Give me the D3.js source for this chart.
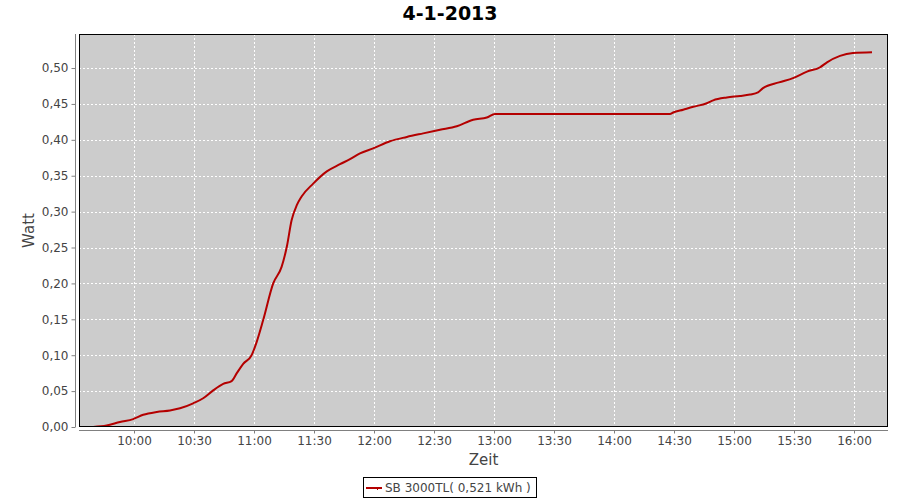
<!DOCTYPE html>
<html>
<head>
<meta charset="utf-8">
<script src="https://cdn.jsdelivr.net/npm/d3@7"></script>
<style>
  body { margin: 0; background: #fff; }
  svg { display: block; }
  text { font-family: "DejaVu Sans", sans-serif; }
</style>
</head>
<body>
<svg id="chart" width="900" height="500"></svg>
<script>
const title = "4-1-2013";
const xLabel = "Zeit";
const yLabel = "Watt";
const seriesName = "SB 3000TL( 0,521 kWh )";

const times = ["09:39:36","09:46:18","09:53:00","09:59:36","10:04:36","10:11:24","10:18:00","10:23:00","10:29:36","10:34:36",
  "10:39:36","10:44:36","10:48:48","10:51:24","10:54:36","10:58:48","11:01:24","11:04:36","11:09:36","11:13:48",
  "11:16:24","11:18:48","11:21:24","11:23:48","11:29:36","11:36:24","11:43:00","11:48:00","11:53:00","11:59:36",
  "12:08:00","12:16:24","12:24:36","12:33:00","12:41:24","12:49:36","12:56:24","13:00:30","14:28:00","14:29:36",
  "14:34:36","14:39:36","14:46:24","14:49:36","14:56:24","15:03:00","15:08:00","15:12:00","15:14:30","15:22:30",
  "15:29:30","15:36:30","15:43:00","15:46:30","15:53:00","15:59:30","16:09:00"];
const values = [0.000,0.002,0.007,0.011,0.017,0.021,0.023,0.026,0.033,0.040,
  0.051,0.060,0.064,0.075,0.088,0.100,0.119,0.149,0.200,0.223,
  0.251,0.288,0.309,0.321,0.339,0.356,0.366,0.373,0.381,0.388,
  0.398,0.404,0.409,0.414,0.419,0.428,0.431,0.436,0.436,0.438,
  0.442,0.446,0.451,0.455,0.459,0.461,0.463,0.466,0.472,0.480,
  0.486,0.495,0.501,0.508,0.517,0.521,0.522];
const xDomain = ["09:32:30", "16:17:00"];
const yDomain = [0, 0.5474];
const yTicks = [0,0.05,0.10,0.15,0.20,0.25,0.30,0.35,0.40,0.45,0.50];

const parse = d3.timeParse("%H:%M:%S");
const data = times.map((t, i) => ({ t: parse(t), v: values[i] }));

const svg = d3.select("#chart");
const plot = { left: 79, top: 34, right: 888, bottom: 427 };
const off = 4;

const x = d3.scaleTime().domain(xDomain.map(parse)).range([plot.left, plot.right]);
const y = d3.scaleLinear().domain(yDomain).range([plot.bottom, plot.top]);

svg.append("rect").attr("x", plot.left).attr("y", plot.top)
  .attr("width", plot.right - plot.left).attr("height", plot.bottom - plot.top)
  .attr("fill", "#cccccc");

const xTicks = x.ticks(d3.timeMinute.every(30));
const g = svg.append("g").attr("stroke", "#ffffff").attr("stroke-width", 1).attr("stroke-dasharray", "2,2");
xTicks.forEach(t => {
  const px = Math.round(x(t)) + 0.5;
  g.append("line").attr("x1", px).attr("x2", px).attr("y1", plot.top).attr("y2", plot.bottom);
});
yTicks.forEach(v => {
  const py = Math.round(y(v)) + 0.5;
  g.append("line").attr("x1", plot.left).attr("x2", plot.right).attr("y1", py).attr("y2", py);
});

svg.append("clipPath").attr("id", "clip").append("rect")
  .attr("x", plot.left).attr("y", plot.top).attr("width", plot.right - plot.left).attr("height", plot.bottom - plot.top);
svg.append("path").datum(data)
  .attr("clip-path", "url(#clip)")
  .attr("fill", "none").attr("stroke", "#b40000").attr("stroke-width", 2)
  .attr("d", d3.line().x(d => x(d.t)).y(d => y(d.v)).curve(d3.curveMonotoneX));

svg.append("rect").attr("x", plot.left + 0.5).attr("y", plot.top + 0.5)
  .attr("width", plot.right - plot.left - 1).attr("height", plot.bottom - plot.top - 1)
  .attr("fill", "none").attr("stroke", "#000").attr("stroke-width", 1);

const fmtY = v => d3.format(".2f")(v).replace(".", ",");
const yAxis = d3.axisLeft(y).tickValues(yTicks).tickFormat(fmtY).tickSize(4).tickPadding(3);
const yg = svg.append("g").attr("transform", `translate(${plot.left - off + 0.5},0)`).call(yAxis);
const xAxis = d3.axisBottom(x).tickValues(xTicks).tickFormat(d3.timeFormat("%H:%M")).tickSize(3).tickPadding(3);
const xg = svg.append("g").attr("transform", `translate(0,${plot.bottom + off - 0.5})`).call(xAxis);
[yg, xg].forEach(a => {
  a.select(".domain").attr("stroke", "#808080");
  a.selectAll(".tick line").attr("stroke", "#808080");
  a.selectAll(".tick text").attr("fill", "#444444").style("font-size", "12px").style("font-family", "DejaVu Sans, sans-serif");
});
yg.select(".domain").attr("d", `M0,${plot.top}V${plot.bottom}`);
xg.select(".domain").attr("d", `M${plot.left},0H${plot.right}`);

svg.append("text").attr("x", 450).attr("y", 20).attr("text-anchor", "middle")
  .style("font-size", "19px").style("font-weight", "bold").attr("fill", "#000").text(title);

svg.append("text").attr("x", (plot.left + plot.right) / 2).attr("y", 465).attr("text-anchor", "middle")
  .style("font-size", "15px").attr("fill", "#444444").text(xLabel);
svg.append("text").attr("transform", `translate(34,${(plot.top + plot.bottom) / 2}) rotate(-90)`)
  .attr("text-anchor", "middle").style("font-size", "15px").attr("fill", "#444444").text(yLabel);

const lg = svg.append("g");
lg.append("rect").attr("x", 363.5).attr("y", 477.5).attr("width", 173).attr("height", 20)
  .attr("fill", "#fff").attr("stroke", "#000").attr("stroke-width", 1);
lg.append("line").attr("x1", 366).attr("x2", 382).attr("y1", 488).attr("y2", 488)
  .attr("stroke", "#b40000").attr("stroke-width", 2);
lg.append("line").attr("x1", 377.5).attr("x2", 377.5).attr("y1", 488).attr("y2", 490)
  .attr("stroke", "#b40000").attr("stroke-width", 1);
lg.append("text").attr("x", 385).attr("y", 492).style("font-size", "12px").attr("fill", "#444444").text(seriesName);
</script>
</body>
</html>
